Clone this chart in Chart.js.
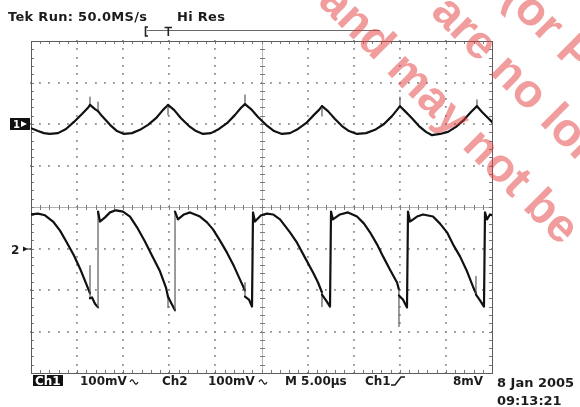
<!DOCTYPE html>
<html><head><meta charset="utf-8">
<script src="https://cdn.jsdelivr.net/npm/chart.js@4/dist/chart.umd.min.js"></script>
<style>html,body{margin:0;padding:0;background:#fff}#wrap{width:580px;height:407px;position:relative}</style>
</head><body><div id="wrap"><canvas id="c" width="580" height="407"></canvas></div>
<script>
// Time in microseconds (5 us/div, 10 div), values in mV (100 mV/div)
const ch1Time = [0,0.76,1.41,2.06,2.93,3.80,4.66,5.53,6.18,6.40,6.40,6.40,6.94,7.27,7.27,7.27,7.70,8.57,9.33,10.09,
  10.95,11.82,12.69,13.56,14.32,14.86,14.86,14.86,15.51,16.27,17.14,17.90,18.66,
  19.52,20.39,21.26,22.13,22.78,23.21,23.21,23.21,23.86,24.62,25.49,26.36,27.22,
  28.09,28.96,29.83,30.69,31.24,31.56,31.56,31.56,32.21,32.97,33.73,34.49,35.36,
  36.34,37.31,38.29,39.15,39.70,40.02,40.02,40.02,40.56,41.32,42.08,42.84,43.49,
  44.36,45.23,46.09,46.96,47.72,48.37,48.37,48.37,48.92,49.46,50.00];
const ch1mV = [-10,-17,-22,-24,-22,-12,5,24,39,46,65,46,36,31,53,31,19,-2,-17,-24,
  -22,-14,-2,14,34,46,22,46,34,14,-5,-17,-24,
  -22,-12,2,22,39,48,70,48,36,17,-2,-17,-24,
  -22,-12,2,22,34,43,19,43,31,12,-5,-17,-24,
  -22,-14,0,19,34,43,65,43,31,14,-5,-19,-27,
  -24,-19,-7,10,29,43,58,43,29,17,5];

const ch2Time = [0,0.76,1.52,2.39,3.15,3.90,4.66,5.31,5.97,6.40,6.40,6.40,6.62,6.94,7.27,
  7.27,7.48,8.03,8.57,9.22,9.98,10.74,11.50,12.36,13.12,13.99,14.64,14.86,14.86,14.86,15.29,15.62,
  15.62,15.94,16.59,17.25,18.33,19.09,19.74,20.50,21.26,22.02,22.67,23.21,23.21,23.21,23.64,23.97,
  24.08,24.29,24.95,25.60,26.25,27.01,28.09,28.85,29.72,30.59,31.13,31.56,31.56,31.56,32.00,32.43,
  32.54,32.75,33.51,34.38,35.36,36.12,36.77,37.53,38.18,38.94,39.70,39.91,39.91,39.91,40.34,40.78,
  40.89,41.11,41.87,42.52,43.60,44.36,45.12,45.77,46.53,47.29,47.94,48.26,48.26,48.26,48.70,49.13,
  49.24,49.46,49.78,50.00];
const ch2mV = [82,84,80,65,43,14,-17,-48,-84,-108,-41,-120,-118,-133,-142,
  89,65,75,87,92,89,77,51,17,-17,-55,-94,-116,-142,-116,-135,-149,
  89,70,82,87,77,63,46,19,-10,-43,-75,-101,-82,-116,-123,-140,
  87,65,80,84,82,70,39,14,-22,-58,-82,-106,-140,-111,-125,-140,
  89,70,82,87,77,60,39,10,-19,-51,-82,-99,-188,-113,-123,-142,
  89,65,77,82,77,60,39,10,-19,-55,-92,-108,-67,-111,-125,-140,
  87,70,82,80];

const headerText = ['Tek Run: 50.0MS/s', 'Hi Res'];
const readouts = ['Ch1', '100mV', 'Ch2', '100mV', 'M 5.00\u00b5s', 'Ch1', '8mV'];
const dateText = ['8 Jan 2005', '09:13:21'];
const watermarkLines = ['and may not be', 'are no longer', '(or Purchase'];

const toPts = (t, v) => t.map((x, i) => ({x, y: v[i]}));
const vertSeg = {
  borderColor: c => c.p0.parsed.x === c.p1.parsed.x ? '#5a5a5a' : undefined,
  borderWidth: c => c.p0.parsed.x === c.p1.parsed.x ? 1.2 : undefined
};

const graticule = {
  id: 'graticule',
  beforeDatasetsDraw(chart) {
    const {ctx, chartArea: a} = chart;
    const sx = chart.scales.x, sy = chart.scales.y1;
    ctx.save();
    ctx.fillStyle = '#909090';
    for (let d = 5; d < 50; d += 5) {
      if (d === 25) continue;
      const x = Math.round(sx.getPixelForValue(d));
      for (let v = -600; v <= 200; v += 20) {
        const y = Math.round(sy.getPixelForValue(v));
        ctx.fillRect(x - 1, y - 1, 1.8, 1.8);
      }
    }
    for (let v = -500; v < 200; v += 100) {
      if (v === -200) continue;
      const y = Math.round(sy.getPixelForValue(v));
      for (let t = 0; t <= 50; t += 1) {
        const x = Math.round(sx.getPixelForValue(t));
        ctx.fillRect(x - 1, y - 1, 1.8, 1.8);
      }
    }
    const cx = Math.round(sx.getPixelForValue(25)) + 0.5;
    const cy = Math.round(sy.getPixelForValue(-200)) + 0.5;
    ctx.strokeStyle = '#b4b4b4'; ctx.lineWidth = 1;
    ctx.beginPath();
    ctx.moveTo(a.left, cy); ctx.lineTo(a.right, cy);
    ctx.moveTo(cx, a.top); ctx.lineTo(cx, a.bottom);
    ctx.stroke();
    ctx.strokeStyle = '#7a7a7a';
    ctx.beginPath();
    for (let t = 0; t <= 50; t += 1) {
      const x = Math.round(sx.getPixelForValue(t)) + 0.5;
      ctx.moveTo(x, cy - 2.5); ctx.lineTo(x, cy + 2.5);
      ctx.moveTo(x, a.top); ctx.lineTo(x, a.top + 3);
      ctx.moveTo(x, a.bottom); ctx.lineTo(x, a.bottom - 3);
    }
    for (let v = -600; v <= 200; v += 20) {
      const y = Math.round(sy.getPixelForValue(v)) + 0.5;
      ctx.moveTo(cx - 2.5, y); ctx.lineTo(cx + 2.5, y);
      ctx.moveTo(a.left, y); ctx.lineTo(a.left + 3, y);
      ctx.moveTo(a.right, y); ctx.lineTo(a.right - 3, y);
    }
    ctx.stroke();
    ctx.strokeStyle = '#5c5c5c';
    ctx.strokeRect(Math.round(a.left) + 0.5, Math.round(a.top) + 0.5,
      Math.round(a.right - a.left), Math.round(a.bottom - a.top));
    ctx.restore();
  },
  afterDraw(chart) {
    const ctx = chart.ctx;
    const sy1 = chart.scales.y1, sy2 = chart.scales.y2;
    ctx.save();
    ctx.textBaseline = 'alphabetic';
    ctx.fillStyle = '#1c1c1c';
    ctx.font = 'bold 13px "DejaVu Sans"';
    ctx.letterSpacing = '0.3px';
    ctx.fillText(headerText[0], 8, 21);
    ctx.fillText(headerText[1], 177, 21);
    ctx.letterSpacing = '0px';
    ctx.strokeStyle = '#6a6a6a'; ctx.lineWidth = 1;
    ctx.beginPath(); ctx.moveTo(147, 30.5); ctx.lineTo(380, 30.5); ctx.stroke();
    ctx.strokeStyle = '#222'; ctx.lineWidth = 1.6;
    ctx.beginPath(); ctx.moveTo(148, 27); ctx.lineTo(145.5, 27); ctx.lineTo(145.5, 36); ctx.lineTo(148, 36); ctx.stroke();
    ctx.beginPath(); ctx.moveTo(164.5, 27.5); ctx.lineTo(172, 27.5); ctx.moveTo(168.3, 27.5); ctx.lineTo(168.3, 36); ctx.stroke();
    const g1 = Math.round(sy1.getPixelForValue(0));
    const g2 = Math.round(sy2.getPixelForValue(0));
    ctx.fillStyle = '#111';
    ctx.fillRect(10, g1 - 6, 20, 12);
    ctx.fillStyle = '#fff';
    ctx.font = 'bold 10px "DejaVu Sans"';
    ctx.fillText('1', 13, g1 + 4);
    ctx.beginPath(); ctx.moveTo(21, g1 - 3); ctx.lineTo(27, g1); ctx.lineTo(21, g1 + 3); ctx.closePath(); ctx.fill();
    ctx.fillStyle = '#1c1c1c';
    ctx.font = 'bold 12px "DejaVu Sans"';
    ctx.fillText('2', 11, g2 + 5);
    ctx.beginPath(); ctx.moveTo(23, g2 - 2.5); ctx.lineTo(28, g2); ctx.lineTo(23, g2 + 2.5); ctx.closePath(); ctx.fill();
    ctx.fillRect(27, g2 - 0.5, 4, 1);
    ctx.fillStyle = '#111';
    ctx.fillRect(33, 375, 30, 11);
    ctx.fillStyle = '#fff';
    ctx.font = 'bold 12px "DejaVu Sans"';
    ctx.fillText(readouts[0], 35, 385);
    ctx.fillStyle = '#1c1c1c';
    ctx.fillText(readouts[1], 80, 385);
    ctx.fillText(readouts[2], 162, 385);
    ctx.fillText(readouts[3], 208, 385);
    ctx.fillText(readouts[4], 285, 385);
    ctx.fillText(readouts[5], 365, 385);
    ctx.fillText(readouts[6], 453, 385);
    ctx.strokeStyle = '#1c1c1c'; ctx.lineWidth = 1.2;
    const wave = (x0, y0) => {
      ctx.beginPath();
      for (let i = 0; i <= 8; i++) {
        const x = x0 + i, y = y0 - 2.2 * Math.sin(i / 8 * 2 * Math.PI);
        if (i === 0) ctx.moveTo(x, y); else ctx.lineTo(x, y);
      }
      ctx.stroke();
    };
    wave(130, 382); wave(259, 382);
    ctx.lineWidth = 1.5;
    ctx.beginPath(); ctx.moveTo(391, 385); ctx.lineTo(395, 385); ctx.lineTo(401, 377); ctx.lineTo(405, 377); ctx.stroke();
    ctx.font = 'bold 13px "DejaVu Sans"';
    ctx.fillText(dateText[0], 497, 387);
    ctx.fillText(dateText[1], 497, 405);
    ctx.font = 'bold 47px "Liberation Sans"';
    ctx.fillStyle = 'rgba(228,60,60,0.5)';
    const wm = (ox, start, text) => {
      ctx.save(); ctx.translate(ox, 0); ctx.rotate(Math.PI / 4);
      ctx.fillText(text, start, 12); ctx.restore();
    };
    wm(331, -8, watermarkLines[0]);
    wm(433, 7, watermarkLines[1]);
    wm(518, -12, watermarkLines[2]);
    ctx.restore();
  }
};

new Chart(document.getElementById('c'), {
  type: 'scatter',
  data: {
    datasets: [
      {label: 'Ch1', data: toPts(ch1Time, ch1mV), yAxisID: 'y1', showLine: true,
       borderColor: '#111', borderWidth: 2.2, pointRadius: 0, tension: 0,
       borderJoinStyle: 'round', borderCapStyle: 'round', segment: vertSeg},
      {label: 'Ch2', data: toPts(ch2Time, ch2mV), yAxisID: 'y2', showLine: true,
       borderColor: '#111', borderWidth: 2.2, pointRadius: 0, tension: 0,
       borderJoinStyle: 'round', borderCapStyle: 'round', segment: vertSeg}
    ]
  },
  options: {
    responsive: false, animation: false, devicePixelRatio: 1,
    layout: {padding: {left: 31, right: 88, top: 41, bottom: 34}},
    plugins: {legend: {display: false}, tooltip: {enabled: false}},
    scales: {
      x: {type: 'linear', min: 0, max: 50, display: false},
      y: {display: false},
      y1: {type: 'linear', min: -600, max: 200, display: false},
      y2: {type: 'linear', min: -300, max: 500, display: false}
    }
  },
  plugins: [graticule]
});
</script></body></html>
